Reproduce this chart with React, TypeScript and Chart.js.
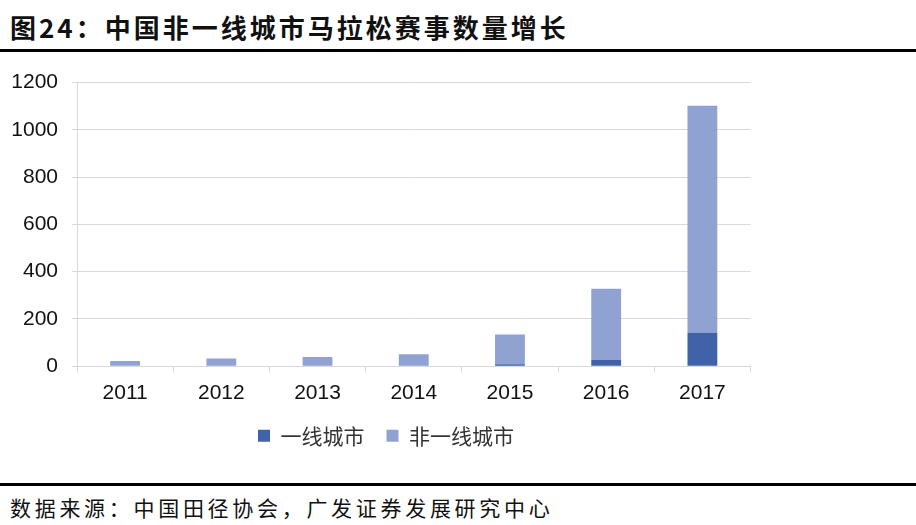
import React, { useEffect, useRef } from "react";
import { Chart, registerables } from "chart.js";
Chart.register(...registerables);

const categories = ["2011", "2012", "2013", "2014", "2015", "2016", "2017"];
const firstTier = [0, 0, 0, 3, 8, 26, 142];
const nonFirstTier = [22, 33, 39, 48, 126, 302, 960];
const yTicks = [0, 200, 400, 600, 800, 1000, 1200];
const seriesNames = ["一线城市", "非一线城市"];
const titleText = "图24：中国非一线城市马拉松赛事数量增长";
const sourceText = "数据来源：中国田径协会，广发证券发展研究中心";

const PAD_TOP = 22;
const PLOT_H = 284;
const X_AXIS_H = 37;
const LEGEND_PAD = 22;
const LEGEND_FONT = 21;
const LEGEND_H = LEGEND_FONT * 1.2 + LEGEND_PAD + 10;
const CANVAS_H = PAD_TOP + PLOT_H + X_AXIS_H + LEGEND_H;
const CANVAS_W = 772;
const Y_AXIS_W = 77;
const RIGHT_GAP = 21.5;

export default function App() {
  const ref = useRef<HTMLCanvasElement | null>(null);
  useEffect(() => {
    if (!ref.current) return;
    const chart = new Chart(ref.current, {
      type: "bar",
      data: {
        labels: categories,
        datasets: [
          {
            label: seriesNames[0],
            data: firstTier,
            backgroundColor: "#3F62A8",
            barPercentage: 0.31,
            categoryPercentage: 1,
          },
          {
            label: seriesNames[1],
            data: nonFirstTier,
            backgroundColor: "#8FA2D1",
            barPercentage: 0.31,
            categoryPercentage: 1,
          },
        ],
      },
      options: {
        animation: false,
        responsive: true,
        maintainAspectRatio: false,
        layout: { padding: { left: 0, right: 0, top: PAD_TOP, bottom: 0 } },
        scales: {
          x: {
            stacked: true,
            grid: {
              drawOnChartArea: false,
              drawTicks: true,
              tickLength: 6,
              color: "#D9D9D9",
              offset: true,
            },
            border: { color: "#D9D9D9", width: 1 },
            ticks: {
              font: { family: "Liberation Sans", size: 21 },
              color: "#111",
              padding: 8,
              maxRotation: 0,
            },
            afterFit: (s: any) => {
              s.height = X_AXIS_H;
            },
          },
          y: {
            stacked: true,
            min: 0,
            max: 1200,
            afterBuildTicks: (s: any) => {
              s.ticks = yTicks.map((v) => ({ value: v }));
            },
            grid: { color: "#D9D9D9", tickLength: 5 },
            border: { color: "#D9D9D9" },
            ticks: {
              font: { family: "Liberation Sans", size: 21 },
              color: "#111",
              padding: 14,
              callback: (v: any) => String(v),
            },
            afterFit: (s: any) => {
              s.width = Y_AXIS_W;
            },
          },
          yRight: {
            type: "linear",
            position: "right",
            display: true,
            grid: { display: false, drawTicks: false },
            border: { display: false },
            ticks: { display: false },
            afterFit: (s: any) => {
              s.width = RIGHT_GAP;
            },
          },
        },
        plugins: {
          legend: {
            position: "bottom",
            labels: {
              boxWidth: 12,
              boxHeight: 12,
              padding: LEGEND_PAD,
              font: { family: "Noto Sans CJK SC", size: LEGEND_FONT },
              color: "#333",
            },
          },
          tooltip: { enabled: false },
        },
      },
    });
    return () => chart.destroy();
  }, []);

  return (
    <div
      style={{
        position: "fixed",
        left: 0,
        top: 0,
        width: 916,
        height: 525,
        background: "#fff",
        overflow: "hidden",
      }}
    >
      <div
        style={{
          position: "absolute",
          left: 10,
          top: 14,
          fontFamily: "Noto Sans CJK SC",
          fontWeight: 700,
          fontSize: 26,
          lineHeight: "26px",
          letterSpacing: 3,
          color: "#111",
          whiteSpace: "nowrap",
        }}
      >
        {titleText}
      </div>
      <div
        style={{
          position: "absolute",
          left: 0,
          top: 49,
          width: 916,
          height: 3,
          background: "#000",
        }}
      />
      <div
        style={{
          position: "absolute",
          left: 0,
          top: 56,
          width: CANVAS_W,
          height: CANVAS_H,
        }}
      >
        <canvas ref={ref} />
      </div>
      <div
        style={{
          position: "absolute",
          left: 0,
          top: 483,
          width: 916,
          height: 3,
          background: "#000",
        }}
      />
      <div
        style={{
          position: "absolute",
          left: 10,
          top: 497,
          fontFamily: "Noto Sans CJK SC",
          fontSize: 21,
          lineHeight: "21px",
          letterSpacing: 3.7,
          color: "#111",
          whiteSpace: "nowrap",
        }}
      >
        {sourceText}
      </div>
    </div>
  );
}
